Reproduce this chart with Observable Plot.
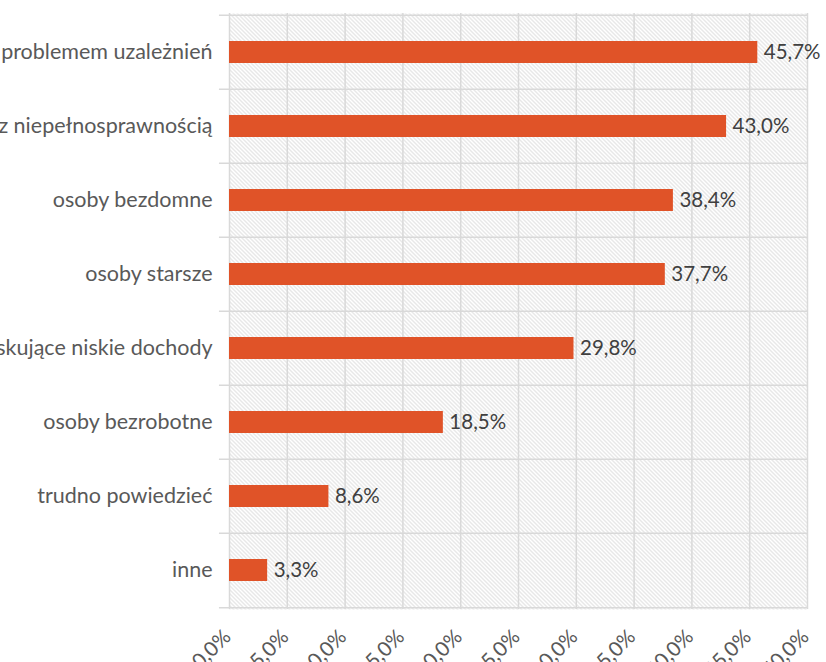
<!DOCTYPE html>
<html><head><meta charset="utf-8">
<script src="https://cdn.jsdelivr.net/npm/d3@7"></script>
<script src="https://cdn.jsdelivr.net/npm/@observablehq/plot@0.6"></script>
<style>body{margin:0;background:#fff;overflow:hidden;}</style>
</head><body><div id="chart"></div>
<script>
const categories = [
  "osoby z problemem uzależnień",
  "osoby z niepełnosprawnością",
  "osoby bezdomne",
  "osoby starsze",
  "osoby uzyskujące niskie dochody",
  "osoby bezrobotne",
  "trudno powiedzieć",
  "inne"
];
const values = [45.7, 43.0, 38.4, 37.7, 29.8, 18.5, 8.6, 3.3];
const xTicks = [0, 5, 10, 15, 20, 25, 30, 35, 40, 45, 50];

const data = categories.map((c, i) => ({category: c, value: values[i]}));
const fmt = v => v.toFixed(1).replace(".", ",") + "%";

const W = 826, H = 662, mt = 13, mb = 53, ml = 229, mr = 19;
const step = (H - mt - mb) / categories.length;
const grid = "#d9d9d9";

const chart = Plot.plot({
  width: W, height: H,
  marginTop: mt, marginBottom: mb, marginLeft: ml, marginRight: mr,
  style: {fontFamily: "Lato, sans-serif", fontSize: "21.5px", color: "#595959", background: "#fff", overflow: "visible"},
  x: {domain: [0, 50], label: null},
  y: {domain: categories, padding: 0, label: null},
  marks: [
    Plot.frame({fill: "url(#hatch)", stroke: "none"}),
    Plot.ruleX(xTicks, {stroke: grid, strokeWidth: 1.5}),
    Plot.ruleY(categories, {dy: -step / 2, x1: -0.87, x2: 50, stroke: grid, strokeWidth: 1.5}),
    Plot.ruleY(categories.slice(-1), {dy: step / 2, x1: -0.87, x2: 50, stroke: grid, strokeWidth: 1.5}),
    Plot.barX(data, {x: "value", y: "category", fill: "#E05328", insetTop: 26, insetBottom: 26}),
    Plot.text(data, {x: "value", y: "category", text: d => fmt(d.value), textAnchor: "start", dx: 6, fill: "#404040", fontSize: 20.5}),
    Plot.axisY({tickSize: 0, tickPadding: 17, fill: "#595959", label: null}),
    Plot.axisX(xTicks, {tickSize: 0, tickRotate: -45, tickPadding: 24, dx: -2, tickFormat: fmt, fill: "#595959", fontSize: 20.5, label: null})
  ]
});

const ns = "http://www.w3.org/2000/svg";
const defs = document.createElementNS(ns, "defs");
defs.innerHTML = `<pattern id="hatch" patternUnits="userSpaceOnUse" width="4" height="4">
  <rect width="4" height="4" fill="#ffffff"/>
  <path d="M-1,-1 L5,5 M-1,3 L1,5 M3,-1 L5,1" stroke="#d0d0d0" stroke-width="1"/>
</pattern>`;
chart.insertBefore(defs, chart.firstChild);
document.getElementById("chart").appendChild(chart);
</script>
</body></html>
